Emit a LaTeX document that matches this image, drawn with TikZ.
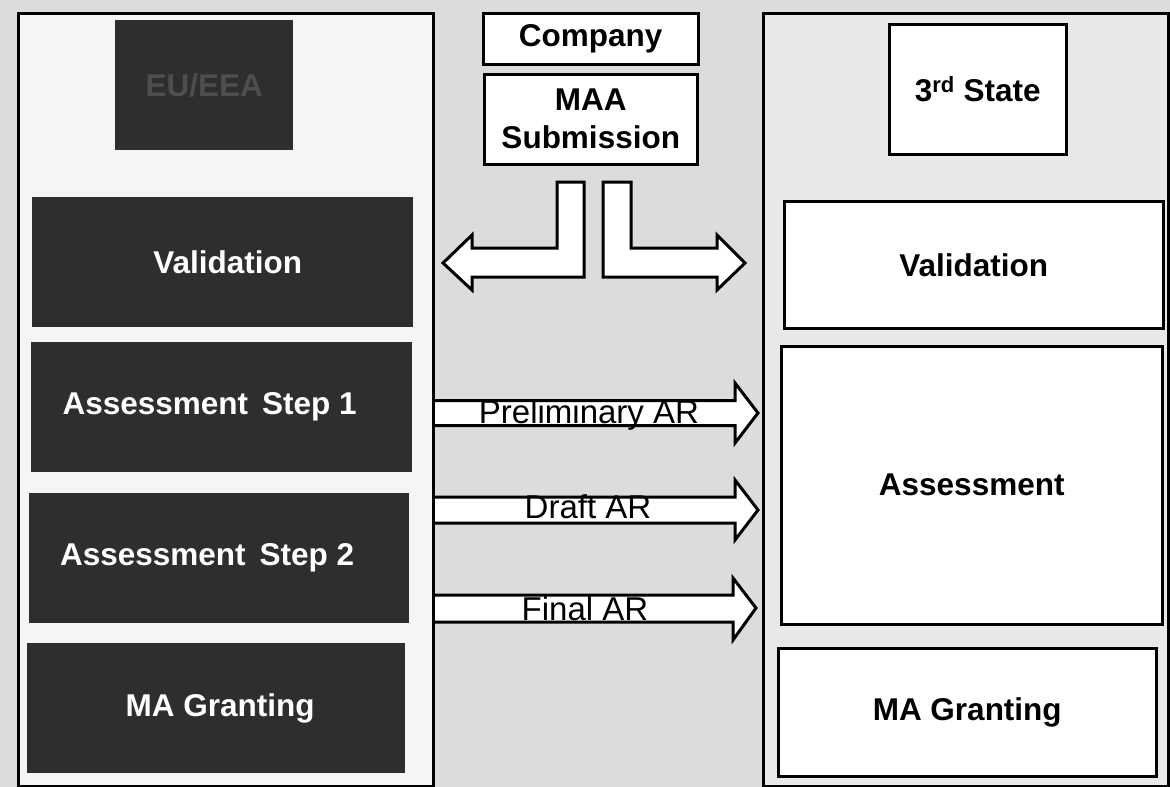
\documentclass[tikz,border=0pt]{standalone}
\usepackage{fontspec}
\setmainfont{Liberation Sans}
\definecolor{bgc}{HTML}{DCDCDC}
\definecolor{leftin}{HTML}{F5F5F5}
\definecolor{rightin}{HTML}{E8E8E8}
\definecolor{darkc}{HTML}{2E2E2E}
\definecolor{eutext}{HTML}{4E4E4E}
\begin{document}
\begin{tikzpicture}[x=1pt,y=-1pt,
  every node/.style={font=\fontsize{31.5}{38}\selectfont\bfseries, inner sep=0pt},
  cont/.style={draw=black, line width=3pt, anchor=north west},
  darkbox/.style={fill=darkc, draw=none, text=white, anchor=north west},
  whitebox/.style={fill=white, draw=black, line width=2.5pt, anchor=north west, text=black},
  barrow/.style={draw=black, line width=3pt, fill=white, line join=miter},
  lbl/.style={font=\fontsize{33}{36}\selectfont, anchor=base, text=black}]
\useasboundingbox (0,0) rectangle (1170,787);
\fill[bgc] (0,0) rectangle (1170,787);
% containers
\node[cont, fill=leftin, minimum width=415pt, minimum height=773pt] (L) at (17,12) {};
\node[cont, fill=rightin, minimum width=405pt, minimum height=773pt] (R) at (762,12) {};
% left column
\node[darkbox, text=eutext, minimum width=178pt, minimum height=130pt] (eu) at (115,20) {EU/EEA};
\node[darkbox, minimum width=381pt, minimum height=130pt] (lval) at (32,197) {\kern10pt Validation};
\node[darkbox, minimum width=381pt, minimum height=130pt] (las1) at (31,342) {Assessment\, Step 1\kern24pt};
\node[darkbox, minimum width=380pt, minimum height=130pt] (las2) at (29,493) {Assessment\, Step 2\kern24pt};
\node[darkbox, minimum width=378pt, minimum height=130pt] (lmag) at (27,643) {\kern8pt MA Granting};
% middle
\node[whitebox, minimum width=215pt, minimum height=51pt] (comp) at (482,12) {Company};
\node[whitebox, minimum width=213pt, minimum height=90pt, align=center] (maa) at (483,73) {MAA\\Submission};
% right column
\node[whitebox, minimum width=177pt, minimum height=130pt] (third) at (888,23) {3\textsuperscript{rd} State};
\node[whitebox, minimum width=379pt, minimum height=127pt] (rval) at (783,200) {Validation};
\node[whitebox, minimum width=381pt, minimum height=278pt] (rass) at (780,345) {Assessment};
\node[whitebox, minimum width=378pt, minimum height=128pt] (rmag) at (777,647) {MA Granting};
% L-shaped block arrows from MAA submission
\draw[barrow] (584,182) -- (584,277) -- (472,277) -- (472,290) -- (443,263) -- (472,235) -- (472,248) -- (557,248) -- (557,182) -- cycle;
\draw[barrow] (603,182) -- (603,277) -- (717,277) -- (717,290) -- (745,263) -- (717,235) -- (717,248) -- (631,248) -- (631,182) -- cycle;
% horizontal block arrows
\draw[barrow] (L.east |- 0,400.5) -- (735,400.5) -- (735,383) -- (758,413) -- (735,443) -- (735,425.5) -- (L.east |- 0,425.5);
\draw[barrow] (L.east |- 0,497) -- (735,497) -- (735,480) -- (758,510) -- (735,540) -- (735,523) -- (L.east |- 0,523);
\draw[barrow] (L.east |- 0,595) -- (733,595) -- (733,578) -- (756,608) -- (733,640) -- (733,622) -- (L.east |- 0,622);
\node[lbl] (t1) at (589,423) {Preliminary AR};
\node[lbl] (t2) at (588,518) {Draft AR};
\node[lbl] (t3) at (585,620) {Final AR};
\end{tikzpicture}
\end{document}
